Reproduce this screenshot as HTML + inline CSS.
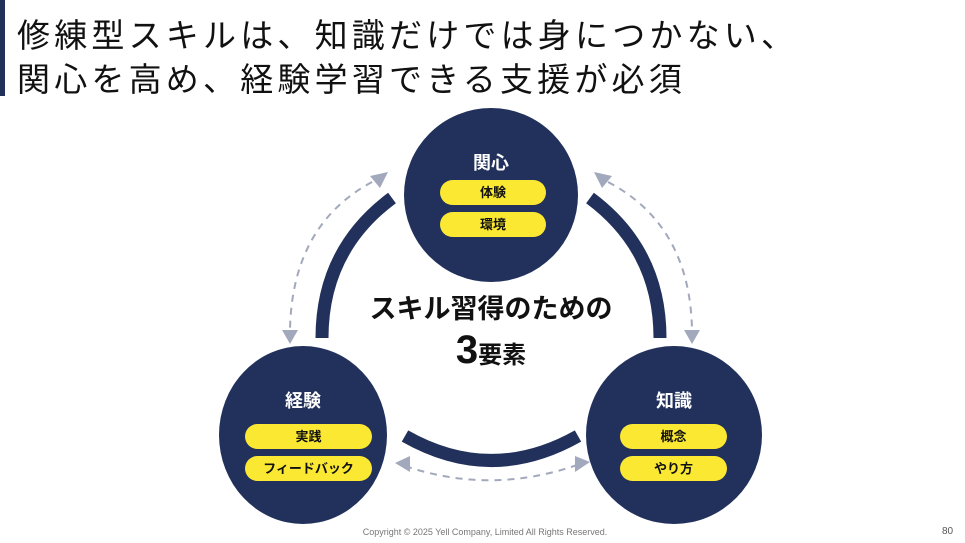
<!DOCTYPE html>
<html><head><meta charset="utf-8"><style>
body{margin:0;width:965px;height:543px;background:#fff;overflow:hidden;position:relative;font-family:"Liberation Sans","Noto Sans CJK JP",sans-serif}
.bar{position:absolute;left:0;top:0;width:5px;height:96px;background:#22315c}
.t{position:absolute;left:17px;font-size:33px;color:#111;white-space:nowrap;letter-spacing:4.2px}
.c{position:absolute;border-radius:50%;background:#22315c}
.h{position:absolute;color:#fff;font-weight:bold;font-size:18px;text-align:center;width:100%}
.p{position:absolute;background:#fbe832;border-radius:13px;text-align:center;font-weight:bold;font-size:13px;color:#111;line-height:25px;height:25px}
</style></head><body>
<div class="bar"></div>
<div class="t" style="top:9px">修練型スキルは、知識だけでは身につかない、</div>
<div class="t" style="top:53px">関心を高め、経験学習できる支援が必須</div>
<svg width="965" height="543" style="position:absolute;left:0;top:0">
<g fill="none" stroke="#22315c" stroke-width="13">
<path d="M392 198 Q322 250 322 338"/>
<path d="M590 198 Q660 250 660 338"/>
<path d="M405 436 Q491 485 578 436"/>
</g>
<g fill="none" stroke="#a3a9bc" stroke-width="2" stroke-dasharray="7 6">
<path d="M372 182 Q292 225 290 330"/>
<path d="M608 182 Q690 225 692 330"/>
<path d="M405 466 Q491 495 577 465"/>
</g>
<g fill="#a3a9bc">
<polygon points="388,172 370,176 380,188"/>
<polygon points="594,172 612,176 602,188"/>
<polygon points="282,330 298,330 290,344"/>
<polygon points="684,330 700,330 692,344"/>
<polygon points="395,463 410,456 410,472"/>
<polygon points="590,462 575,456 575,472"/>
</g>
</svg>
<div class="c" style="left:404px;top:108px;width:174px;height:174px">
<div class="h" style="top:41px">関心</div>
<div class="p" style="left:36px;top:72px;width:106px">体験</div>
<div class="p" style="left:36px;top:104px;width:106px">環境</div>
</div>
<div class="c" style="left:219px;top:346px;width:168px;height:178px">
<div class="h" style="top:41px">経験</div>
<div class="p" style="left:26px;top:78px;width:127px">実践</div>
<div class="p" style="left:26px;top:110px;width:127px">フィードバック</div>
</div>
<div class="c" style="left:586px;top:346px;width:176px;height:178px">
<div class="h" style="top:41px">知識</div>
<div class="p" style="left:34px;top:78px;width:107px">概念</div>
<div class="p" style="left:34px;top:110px;width:107px">やり方</div>
</div>
<div style="position:absolute;left:331px;top:287px;width:320px;text-align:center;font-weight:bold;font-size:27px;color:#111">スキル習得のための</div>
<div style="position:absolute;left:341px;top:328px;width:300px;text-align:center;font-weight:bold;color:#111"><span style="font-size:40px">3</span><span style="font-size:24px">要素</span></div>
<div style="position:absolute;left:0;top:527px;width:970px;text-align:center;font-size:9px;color:#777">Copyright © 2025 Yell Company, Limited All Rights Reserved.</div>
<div style="position:absolute;left:942px;top:526px;font-size:10px;color:#555">80</div>
</body></html>
